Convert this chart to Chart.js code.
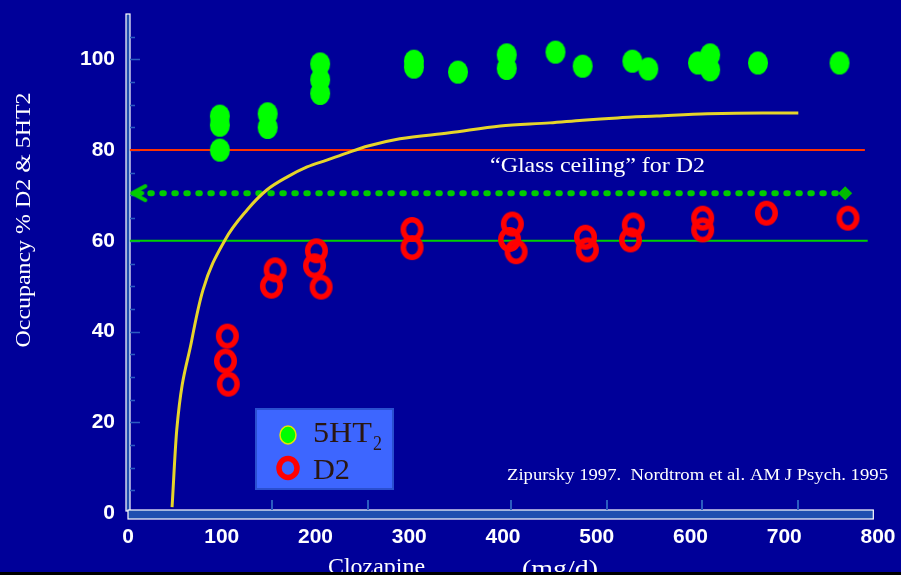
<!DOCTYPE html>
<html>
<head>
<meta charset="utf-8">
<script src="https://cdn.jsdelivr.net/npm/chart.js@4.4.1/dist/chart.umd.min.js"></script>
<style>
  html, body { margin: 0; padding: 0; background: #000099; overflow: hidden; }
  canvas { display: block; }
</style>
</head>
<body>
<canvas id="chart" width="901" height="575"></canvas>
<script>
// tick labels
const xTicks = [0, 100, 200, 300, 400, 500, 600, 700, 800];
const yTicks = [0, 20, 40, 60, 80, 100];
const yMinorTicks = [5, 10, 15, 20, 25, 30, 35, 40, 45, 50, 55, 60, 65, 70, 75, 80, 85, 90, 95, 100, 105];
const xMinorTicks = [154, 256, 409, 511, 612, 715];

// 5HT2 occupancy (green dots)
const htX = [98, 98, 98, 149, 149, 205, 205, 205, 305, 305, 352, 404, 404, 456, 485, 538, 555, 608, 621, 621, 672, 759];
const htY = [87.5, 85.5, 80, 88, 85, 99, 95.5, 92.5, 99.6, 98.3, 97.2, 101, 98, 101.6, 98.5, 99.6, 97.9, 99.2, 101, 97.7, 99.2, 99.2];

// D2 occupancy (red rings)
const d2X = [106, 104, 107, 157, 153, 201, 199, 206, 303, 303, 410, 407, 414, 488, 490, 539, 536, 613, 613, 681, 768];
const d2Y = [39, 33.5, 28.4, 53.6, 50, 57.8, 54.5, 49.8, 62.5, 58.5, 63.7, 60.3, 57.6, 60.8, 58, 63.5, 60.2, 65, 62.4, 66.1, 65];

// yellow fitted curve
const curveX = [47, 52, 68, 80, 103.5, 127, 148, 170, 191, 212, 234, 256, 290, 343, 397, 450, 485, 522, 564, 618, 677, 715];
const curveY = [1.3, 18.3, 38.1, 49.2, 60.2, 66.8, 71.2, 74.1, 76.3, 77.8, 79.4, 80.9, 82.5, 83.8, 85.3, 86.0, 86.6, 87.1, 87.5, 88.0, 88.2, 88.2];

// "glass ceiling" arrow and reference lines
const ceilingX = [11, 765];
const ceilingY = 70.5;
const redLineX = [2, 786];
const redLineY = 80;
const greenLineX = [2, 789];
const greenLineY = 60;

const BG = "#000099";
const AXIS_FILL = "#1f4fb0";
const TICK_COLOR = "#2c5cc0";

function pts(xs, ys) {
  return xs.map((x, i) => ({ x: x, y: Array.isArray(ys) ? ys[i] : ys }));
}

function ellipseImg(w, h, fill, stroke, lw) {
  const pad = (lw || 0) + 2;
  const c = document.createElement("canvas");
  c.width = Math.ceil(w + pad);
  c.height = Math.ceil(h + pad);
  const g = c.getContext("2d");
  g.beginPath();
  g.ellipse(c.width / 2, c.height / 2, w / 2, h / 2, 0, 0, Math.PI * 2);
  if (fill) { g.fillStyle = fill; g.fill(); }
  if (stroke) { g.strokeStyle = stroke; g.lineWidth = lw; g.stroke(); }
  return c;
}

function chevronImg() {
  const c = document.createElement("canvas");
  c.width = 20; c.height = 20;
  const g = c.getContext("2d");
  g.strokeStyle = "#00cc00";
  g.lineWidth = 4;
  g.lineCap = "round";
  g.lineJoin = "round";
  g.beginPath();
  g.moveTo(17, 3); g.lineTo(4, 10); g.lineTo(17, 17);
  g.moveTo(4, 10); g.lineTo(14, 10);
  g.stroke();
  return c;
}

const greenDot = ellipseImg(20, 23, "#00ff00");
const redRing = ellipseImg(17.5, 19.5, null, "#ff0000", 5.5);
const chevron = chevronImg();

function fitText(ctx, text, x, y, font, width, align) {
  ctx.save();
  ctx.font = font;
  const w = ctx.measureText(text).width;
  const s = width / w;
  ctx.translate(x, y);
  ctx.scale(s, 1);
  ctx.textAlign = align || "left";
  ctx.fillText(text, 0, 0);
  ctx.restore();
}

const decor = {
  id: "decor",
  beforeDraw(chart) {
    const ctx = chart.ctx;
    ctx.save();
    ctx.fillStyle = BG;
    ctx.fillRect(0, 0, chart.width, chart.height);
    ctx.restore();
  },
  beforeDatasetsDraw(chart) {
    const { ctx, chartArea: a, scales: { x, y } } = chart;
    ctx.save();
    // y axis bar
    ctx.fillStyle = AXIS_FILL;
    ctx.fillRect(a.left - 2, a.top, 4, a.bottom - a.top - 2);
    ctx.strokeStyle = "#ffffff";
    ctx.lineWidth = 1.2;
    ctx.strokeRect(a.left - 2, a.top, 4, a.bottom - a.top - 2);
    // y tick marks
    ctx.strokeStyle = TICK_COLOR;
    ctx.lineWidth = 1.5;
    yMinorTicks.forEach((v) => {
      const py = Math.round(y.getPixelForValue(v)) + 0.5;
      const len = yTicks.includes(v) ? 10 : 5;
      ctx.beginPath();
      ctx.moveTo(a.left + 2, py);
      ctx.lineTo(a.left + 2 + len, py);
      ctx.stroke();
    });
    // x axis bar
    const xr = x.getPixelForValue(795);
    ctx.fillStyle = AXIS_FILL;
    ctx.fillRect(a.left, a.bottom - 3, xr - a.left, 9);
    ctx.strokeStyle = "#ffffff";
    ctx.lineWidth = 1.2;
    ctx.strokeRect(a.left, a.bottom - 3, xr - a.left, 9);
    // x tick marks
    ctx.strokeStyle = TICK_COLOR;
    ctx.lineWidth = 2;
    xMinorTicks.forEach((v) => {
      const px = Math.round(x.getPixelForValue(v));
      ctx.beginPath();
      ctx.moveTo(px, a.bottom - 3);
      ctx.lineTo(px, a.bottom - 13);
      ctx.stroke();
    });
    ctx.restore();
  },
  afterDraw(chart) {
    const ctx = chart.ctx;
    ctx.save();
    ctx.fillStyle = "#ffffff";
    ctx.textBaseline = "alphabetic";

    // y axis title
    ctx.save();
    ctx.translate(30, 220);
    ctx.rotate(-Math.PI / 2);
    fitText(ctx, "Occupancy % D2 & 5HT2", 0, 0, '22px "Liberation Serif"', 255, "center");
    ctx.restore();

    fitText(ctx, "\u201CGlass ceiling\u201D for D2", 490, 172, '22px "Liberation Serif"', 215);
    fitText(ctx, "Zipursky 1997.  Nordtrom et al. AM J Psych. 1995", 507, 480, '16px "Liberation Serif"', 381);

    // x axis title (cut by the bottom edge)
    fitText(ctx, "Clozapine", 328, 574, '24px "Liberation Serif"', 97);
    fitText(ctx, "(mg/d)", 522, 576, '24px "Liberation Serif"', 76);

    // legend box
    ctx.fillStyle = "#3d66ff";
    ctx.fillRect(256, 409, 137, 80);
    ctx.strokeStyle = "#2a4fd0";
    ctx.lineWidth = 2;
    ctx.strokeRect(256, 409, 137, 80);

    ctx.beginPath();
    ctx.ellipse(288, 435, 8, 9, 0, 0, Math.PI * 2);
    ctx.fillStyle = "#00ff00";
    ctx.fill();
    ctx.strokeStyle = "#e6e600";
    ctx.lineWidth = 1.5;
    ctx.stroke();

    ctx.beginPath();
    ctx.ellipse(288, 468, 9, 9.5, 0, 0, Math.PI * 2);
    ctx.strokeStyle = "#ff0000";
    ctx.lineWidth = 5.5;
    ctx.stroke();

    ctx.fillStyle = "#2a1610";
    fitText(ctx, "5HT", 313, 442, '30px "Liberation Serif"', 59);
    fitText(ctx, "2", 373, 450, '20px "Liberation Serif"', 9);
    fitText(ctx, "D2", 313, 479, '30px "Liberation Serif"', 37);

    // black strip at the bottom edge
    ctx.fillStyle = "#000000";
    ctx.fillRect(0, 572, chart.width, 3);
    ctx.restore();
  }
};

const ctx = document.getElementById("chart").getContext("2d");

new Chart(ctx, {
  type: "scatter",
  data: {
    datasets: [
      {
        label: "5HT2",
        data: pts(htX, htY),
        pointStyle: greenDot,
        pointRadius: 11,
      },
      {
        label: "D2",
        data: pts(d2X, d2Y),
        pointStyle: redRing,
        pointRadius: 12,
      },
      {
        label: "fit",
        data: pts(curveX, curveY),
        showLine: true,
        borderColor: "#e6d52a",
        borderWidth: 3,
        pointRadius: 0,
        cubicInterpolationMode: "monotone",
      },
      {
        label: "ceiling",
        data: pts(ceilingX, ceilingY),
        showLine: true,
        borderColor: "#00cc00",
        borderWidth: 6,
        borderDash: [1.5, 10.5],
        borderCapStyle: "round",
        pointStyle: [chevron, "rectRot"],
        pointRadius: [10, 7],
        pointBackgroundColor: "#00bb00",
        pointBorderColor: "#00bb00",
        pointBorderWidth: 0,
      },
      {
        label: "80",
        data: pts(redLineX, redLineY),
        showLine: true,
        borderColor: "#ff3300",
        borderWidth: 2,
        pointRadius: 0,
      },
      {
        label: "60",
        data: pts(greenLineX, greenLineY),
        showLine: true,
        borderColor: "#00d000",
        borderWidth: 2,
        pointRadius: 0,
      },
    ],
  },
  options: {
    responsive: false,
    animation: false,
    devicePixelRatio: 1,
    layout: { padding: { left: 0, right: 23, top: 14, bottom: 0 } },
    plugins: {
      legend: { display: false },
      tooltip: { enabled: false },
    },
    scales: {
      x: {
        type: "linear",
        min: 0,
        max: 800,
        grid: { display: false, drawTicks: false },
        border: { display: false },
        afterBuildTicks: (s) => { s.ticks = xTicks.map((v) => ({ value: v })); },
        afterFit: (s) => { s.height = 62; s.paddingLeft = 0; s.paddingRight = 0; },
        ticks: {
          color: "#ffffff",
          padding: 12,
          maxRotation: 0,
          font: { family: '"Liberation Sans", Arial', size: 21, weight: "bold" },
        },
      },
      y: {
        min: 0,
        max: 110,
        grid: { display: false, drawTicks: false },
        border: { display: false },
        afterBuildTicks: (s) => { s.ticks = yTicks.map((v) => ({ value: v })); },
        afterFit: (s) => { s.width = 128; s.paddingTop = 0; s.paddingBottom = 0; },
        ticks: {
          color: "#ffffff",
          padding: 13,
          font: { family: '"Liberation Sans", Arial', size: 21, weight: "bold" },
        },
      },
    },
  },
  plugins: [decor],
});
</script>
</body>
</html>
